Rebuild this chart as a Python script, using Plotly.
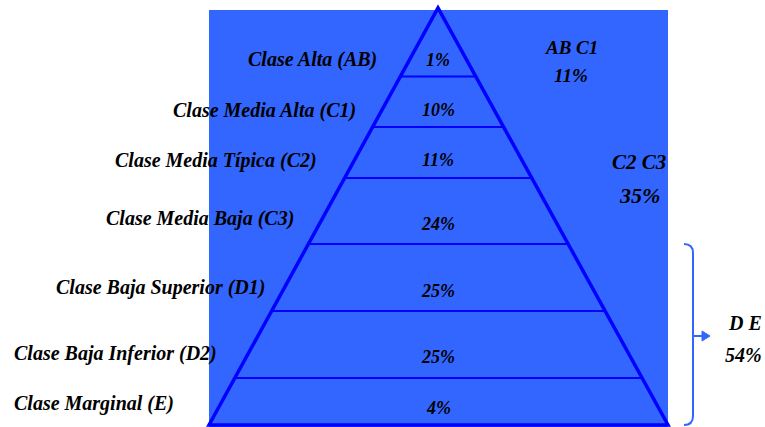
import plotly.graph_objects as go

# ---- data ----
classes = ["Clase Alta (AB)", "Clase Media Alta (C1)", "Clase Media Típica (C2)",
           "Clase Media Baja (C3)", "Clase Baja Superior (D1)", "Clase Baja Inferior (D2)",
           "Clase Marginal (E)"]
shares = ["1%", "10%", "11%", "24%", "25%", "25%", "4%"]
group_names = ["AB C1", "C2 C3", "D E"]
group_shares = ["11%", "35%", "54%"]

# ---- layout geometry (pixel-like axis units) ----
W, H = 765, 427
apex = (438, 8)
base_y = 425
base_left, base_right = 209, 668
layer_edges = [76.5, 127, 178, 244, 311, 378]
label_left = [246, 171, 113, 104, 54, 12, 12]
label_y = [59, 110, 160, 218, 287, 353, 403]
share_y = [60, 110, 160, 224, 291, 357, 408]

BG = "#3366FF"
LINE = "#0000FF"
FONT = "Liberation Serif, Times New Roman, serif"

fig = go.Figure()
shapes = []
shapes.append(dict(type="rect", xref="x", yref="y", x0=209, x1=668, y0=10, y1=427,
                   fillcolor=BG, line=dict(width=0), layer="below"))
shapes.append(dict(type="path", xref="x", yref="y",
                   path=f"M {base_left} {base_y} L {apex[0]} {apex[1]} L {base_right} {base_y} Z",
                   line=dict(color=LINE, width=3.5), fillcolor="rgba(0,0,0,0)"))
half = (base_right - base_left) / 2
for y in layer_edges:
    hw = (y - apex[1]) / (base_y - apex[1]) * half
    shapes.append(dict(type="line", xref="x", yref="y", x0=apex[0] - hw, x1=apex[0] + hw,
                       y0=y, y1=y, line=dict(color=LINE, width=2)))
shapes.append(dict(type="path", xref="x", yref="y",
                   path="M 684 244 Q 693 244 693 253 L 693 416 Q 693 425 684 425",
                   line=dict(color=BG, width=2)))
shapes.append(dict(type="line", xref="x", yref="y", x0=693, x1=703, y0=336, y1=336,
                   line=dict(color=BG, width=2)))
shapes.append(dict(type="path", xref="x", yref="y",
                   path="M 702 331 L 710 336 L 702 341 Z",
                   line=dict(color=BG, width=1), fillcolor=BG))
fig.update_layout(shapes=shapes)

annotations = []
def txt(x, y, s, size=20, anchor="center"):
    annotations.append(dict(x=x, y=y, xref="x", yref="y", text=f"<b><i>{s}</i></b>",
                            showarrow=False, xanchor=anchor, yanchor="middle",
                            font=dict(family=FONT, size=size, color="black")))

for c, lx, ly in zip(classes, label_left, label_y):
    txt(lx, ly, c, size=20, anchor="left")
for s, sy in zip(shares, share_y):
    txt(438, sy, s, size=18)

txt(571, 47, group_names[0], size=19)
txt(571, 75, group_shares[0], size=19)
txt(639, 162, group_names[1], size=21)
txt(639, 195, group_shares[1], size=22)
txt(745, 323, group_names[2], size=20)
txt(743, 355, group_shares[2], size=20)
fig.update_layout(annotations=annotations)

fig.update_xaxes(range=[0, W], visible=False, fixedrange=True)
fig.update_yaxes(range=[H, 0], visible=False, fixedrange=True)
fig.update_layout(width=W, height=H, margin=dict(l=0, r=0, t=0, b=0),
                  paper_bgcolor="white", plot_bgcolor="white", showlegend=False)

fig.write_html("out.html")
